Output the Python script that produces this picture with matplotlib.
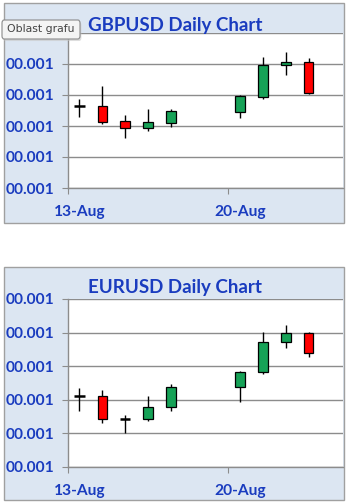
import matplotlib
matplotlib.use("Agg")
import matplotlib.pyplot as plt
import matplotlib.dates as mdates
from matplotlib.patches import Rectangle, FancyBboxPatch
import datetime as dt

# ---------------- data ----------------
dates = ["2012-08-13", "2012-08-14", "2012-08-15", "2012-08-16", "2012-08-17",
         "2012-08-20", "2012-08-21", "2012-08-22", "2012-08-23"]

gbp_open  = [1.5733, 1.5732, 1.5708, 1.5696, 1.5705, 1.5723, 1.5747, 1.5798, 1.5804]
gbp_high  = [1.5744, 1.5765, 1.5718, 1.5727, 1.5727, 1.5750, 1.5812, 1.5819, 1.5809]
gbp_low   = [1.5714, 1.5703, 1.5680, 1.5692, 1.5699, 1.5713, 1.5744, 1.5783, 1.5752]
gbp_close = [1.5733, 1.5707, 1.5696, 1.5707, 1.5724, 1.5748, 1.5798, 1.5804, 1.5754]

eur_open  = [1.2305, 1.2306, 1.2272, 1.2272, 1.2289, 1.2319, 1.2341, 1.2386, 1.2400]
eur_high  = [1.2317, 1.2315, 1.2278, 1.2305, 1.2324, 1.2343, 1.2401, 1.2411, 1.2401]
eur_low   = [1.2283, 1.2265, 1.2250, 1.2268, 1.2283, 1.2296, 1.2339, 1.2377, 1.2364]
eur_close = [1.2305, 1.2272, 1.2272, 1.2290, 1.2319, 1.2341, 1.2386, 1.2400, 1.2370]

gbp_yticks = [1.560, 1.565, 1.570, 1.575, 1.580, 1.585]
eur_yticks = [1.220, 1.225, 1.230, 1.235, 1.240, 1.245]
ytick_labels = ["00.001", "00.001", "00.001", "00.001", "00.001", "00.001"]

xtick_dates = ["2012-08-13", "2012-08-20"]
xtick_labels = ["13-Aug", "20-Aug"]
x_range = ["2012-08-13", "2012-08-25"]

titles = ["GBPUSD Daily Chart", "EURUSD Daily Chart"]

# ---------------- style ----------------
W, H = 351, 503
DPI = 100
BLUE = "#1a3cbf"
GREEN = "#16a257"
RED = "#ff0000"
GRID = "#8c8c8c"
PANEL = "#dce6f2"
FONT = "Lato"

fig = plt.figure(figsize=(W / DPI, H / DPI), dpi=DPI)
fig.patch.set_facecolor("white")


def px_rect(x0, y0, x1, y1):
    """pixel box (top-left origin) -> figure fraction [l, b, w, h]"""
    return [x0 / W, 1 - y1 / H, (x1 - x0) / W, (y1 - y0) / H]


def to_num(ds):
    return [mdates.date2num(dt.datetime.strptime(d, "%Y-%m-%d")) for d in ds]


# panel backgrounds
for (y0, y1) in [(3, 223), (267, 500)]:
    l, b, w, h = px_rect(4, y0, 344, y1)
    fig.patches.append(Rectangle((l, b), w, h, transform=fig.transFigure,
                                 facecolor=PANEL, edgecolor="#a0a0a0", lw=1.0, zorder=-5))


def candle_chart(ax, o, hi, lo, c, yticks, title, title_y):
    x = [v + 0.5 for v in to_num(dates)]
    xr = to_num(x_range)
    ax.set_facecolor("white")
    ax.set_xlim(xr[0], xr[1])
    ax.set_ylim(yticks[0], yticks[-1])
    ax.vlines(x, lo, hi, color="black", lw=1.0, zorder=3)
    for xi, oi, ci in zip(x, o, c):
        bottom = min(oi, ci)
        height = abs(ci - oi)
        if height < 1e-9:
            ax.hlines(oi, xi - 0.22, xi + 0.22, color="black", lw=1.8, zorder=4)
        else:
            col = GREEN if ci > oi else RED
            ax.bar(xi, height, bottom=bottom, width=0.42, color=col,
                   edgecolor="black", lw=0.9, zorder=4)
    ax.set_yticks(yticks)
    ax.set_yticklabels(ytick_labels)
    ax.yaxis.grid(True, color=GRID, lw=1.0)
    ax.set_axisbelow(True)
    xt = to_num(xtick_dates)
    ax.set_xticks(xt)
    ax.set_xticklabels(["" for _ in xt])
    ax.set_xticks([v + 0.5 for v in xt], minor=True)
    ax.set_xticklabels(xtick_labels, minor=True)
    ax.tick_params(axis="x", which="minor", length=0, pad=12)
    ax.tick_params(axis="both", which="major", length=4, color=GRID, direction="out")
    for lab in ax.get_xticklabels(minor=True) + ax.get_yticklabels():
        lab.set_fontfamily(FONT)
        lab.set_fontweight("bold")
        lab.set_fontsize(11.2)
        lab.set_color(BLUE)
    ax.tick_params(axis="y", pad=5.5)
    for s in ["top", "right"]:
        ax.spines[s].set_visible(False)
    for s in ["left", "bottom"]:
        ax.spines[s].set_color(GRID)
        ax.spines[s].set_linewidth(1.0)
    fig.text(175 / W, 1 - title_y / H, title, ha="center", va="center",
             fontfamily=FONT, fontweight="bold", fontsize=13.5, color=BLUE)


ax1 = fig.add_axes(px_rect(68, 33, 343, 188))
candle_chart(ax1, gbp_open, gbp_high, gbp_low, gbp_close, gbp_yticks, titles[0], 25)

ax2 = fig.add_axes(px_rect(68, 299, 343, 467))
candle_chart(ax2, eur_open, eur_high, eur_low, eur_close, eur_yticks, titles[1], 288)

# tooltip "Oblast grafu"
l, b, w, h = px_rect(2, 20, 80, 39)
fig.patches.append(FancyBboxPatch((l + 0.004, b - 0.004), w, h, boxstyle="round,pad=0.0,rounding_size=0.006",
                                  transform=fig.transFigure, facecolor="#c8c8c8",
                                  edgecolor="none", zorder=10, alpha=0.6))
fig.patches.append(FancyBboxPatch((l, b), w, h, boxstyle="round,pad=0.0,rounding_size=0.006",
                                  transform=fig.transFigure, facecolor="#f4f4f4",
                                  edgecolor="#8a8a8a", lw=0.8, zorder=11))
fig.text(41 / W, 1 - 29.5 / H, "Oblast grafu", ha="center", va="center",
         fontfamily="DejaVu Sans", fontsize=7.8, color="#444444", zorder=12)

fig.savefig("out.png", dpi=DPI)
